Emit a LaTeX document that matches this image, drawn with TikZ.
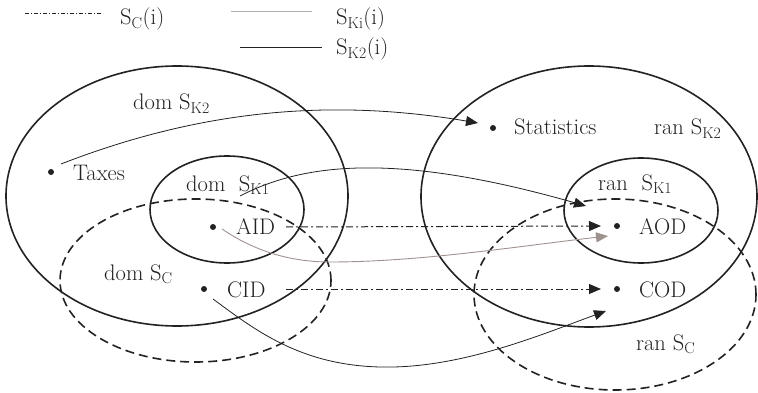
\documentclass[tikz,border=0pt]{standalone}
\usetikzlibrary{arrows.meta}
\definecolor{inkc}{HTML}{222222}
\definecolor{grayc}{HTML}{9E928F}
\definecolor{graylg}{HTML}{B5ADAA}
\tikzset{
  setline/.style={draw=inkc,line width=1.6pt},
  setdash/.style={setline,dash pattern=on 9pt off 5pt},
  lbl/.style={anchor=base west,inner sep=0pt,font=\fontsize{22.5}{27}\selectfont,text=inkc},
  dotpt/.style={circle,fill=inkc,inner sep=0pt,minimum size=6pt},
  conn/.style={draw=inkc,line width=0.8pt,-{Triangle[length=12pt,width=10pt]}},
  conngray/.style={draw=grayc,line width=0.9pt,-{Triangle[length=12pt,width=10pt,fill=grayc]}},
  conndd/.style={conn,line width=1pt,dash pattern=on 7pt off 3pt on 2pt off 3pt},
}
\begin{document}
\begin{tikzpicture}[x=1pt,y=-1pt]
\useasboundingbox (0,0) rectangle (758,393);
% legend
\coordinate (lg1a) at (25,13);  \coordinate (lg1b) at (103,13);
\coordinate (lg2a) at (231,12); \coordinate (lg2b) at (312,12);
\coordinate (lg3a) at (240,48); \coordinate (lg3b) at (322,48);
\draw[inkc,line width=0.6pt,dash pattern=on 4pt off 2pt on 1pt off 2pt] (lg1a) -- (lg1b);
\draw[graylg,line width=1pt] (lg2a) -- (lg2b);
\draw[inkc,line width=1pt] (lg3a) -- (lg3b);
\node[lbl] (lgt1) at (120,25) {S\textsubscript{C}(i)};
\node[lbl] (lgt2) at (336,25) {S\textsubscript{Ki}(i)};
\node[lbl] (lgt3) at (336,55) {S\textsubscript{K2}(i)};
% sets
\draw[setline] (177,196) ellipse [x radius=171pt, y radius=130pt];
\draw[setline] (227,209.5) ellipse [x radius=77pt, y radius=53.5pt];
\draw[setdash] (195.5,280.5) ellipse [x radius=135.5pt, y radius=81.5pt];
\draw[setline] (589,196.5) ellipse [x radius=168pt, y radius=130.5pt];
\draw[setline] (641,210.5) ellipse [x radius=77pt, y radius=52.5pt];
\draw[setdash] (615,294.5) ellipse [x radius=141pt, y radius=95.5pt];
% labels
\node[lbl] (k2l) at (133,110) {dom S\textsubscript{K2}};
\node[lbl] (k1l) at (186,191) {dom\ \ S\textsubscript{K1}};
\node[lbl] (scl) at (104,280) {dom S\textsubscript{C}};
\node[lbl] (rk2l) at (654,135) {ran S\textsubscript{K2}};
\node[lbl] (rk1l) at (598,190) {ran\ \ S\textsubscript{K1}};
\node[lbl] (rscl) at (636,350) {ran S\textsubscript{C}};
% elements
\node[dotpt] (txd) at (51,172) {};
\node[lbl] (txl) at (73,180) {Taxes};
\node[dotpt] (aidd) at (213,227) {};
\node[lbl] (aidl) at (236,234) {AID};
\node[dotpt] (cidd) at (204,289) {};
\node[lbl] (cidl) at (227,297) {CID};
\node[dotpt] (std) at (493,128) {};
\node[lbl] (stl) at (514,135) {Statistics};
\node[dotpt] (aodd) at (617,226) {};
\node[lbl] (aodl) at (639,234) {AOD};
\node[dotpt] (codd) at (617,289) {};
\node[lbl] (codl) at (639,297) {COD};
% connectors
\draw[conn] ([shift={(10,-8)}]txd.center) .. controls (200,110) and (330,98) .. ([shift={(-15,-5)}]std.center);
\draw[conn] ([shift={(54,5)}]k1l.base west) .. controls (300,165) and (390,150) .. ([shift={(-31,-20)}]aodd.center);
\draw[conngray] ([shift={(9,2)}]aidd.center) .. controls (250,248) and (285,262) .. (330,262) .. controls (420,262) and (520,246) .. ([shift={(-9,10)}]aodd.center);
\draw[conndd] ([xshift=73pt]aidd.center) -- ([xshift=-16pt]aodd.center);
\draw[conndd] ([xshift=82pt]cidd.center) -- ([xshift=-16pt]codd.center);
\draw[conn] ([shift={(9,10)}]cidd.center) .. controls (255,330) and (300,365) .. (380,367) .. controls (460,369) and (540,335) .. ([shift={(-11,22)}]codd.center);
\end{tikzpicture}
\end{document}
